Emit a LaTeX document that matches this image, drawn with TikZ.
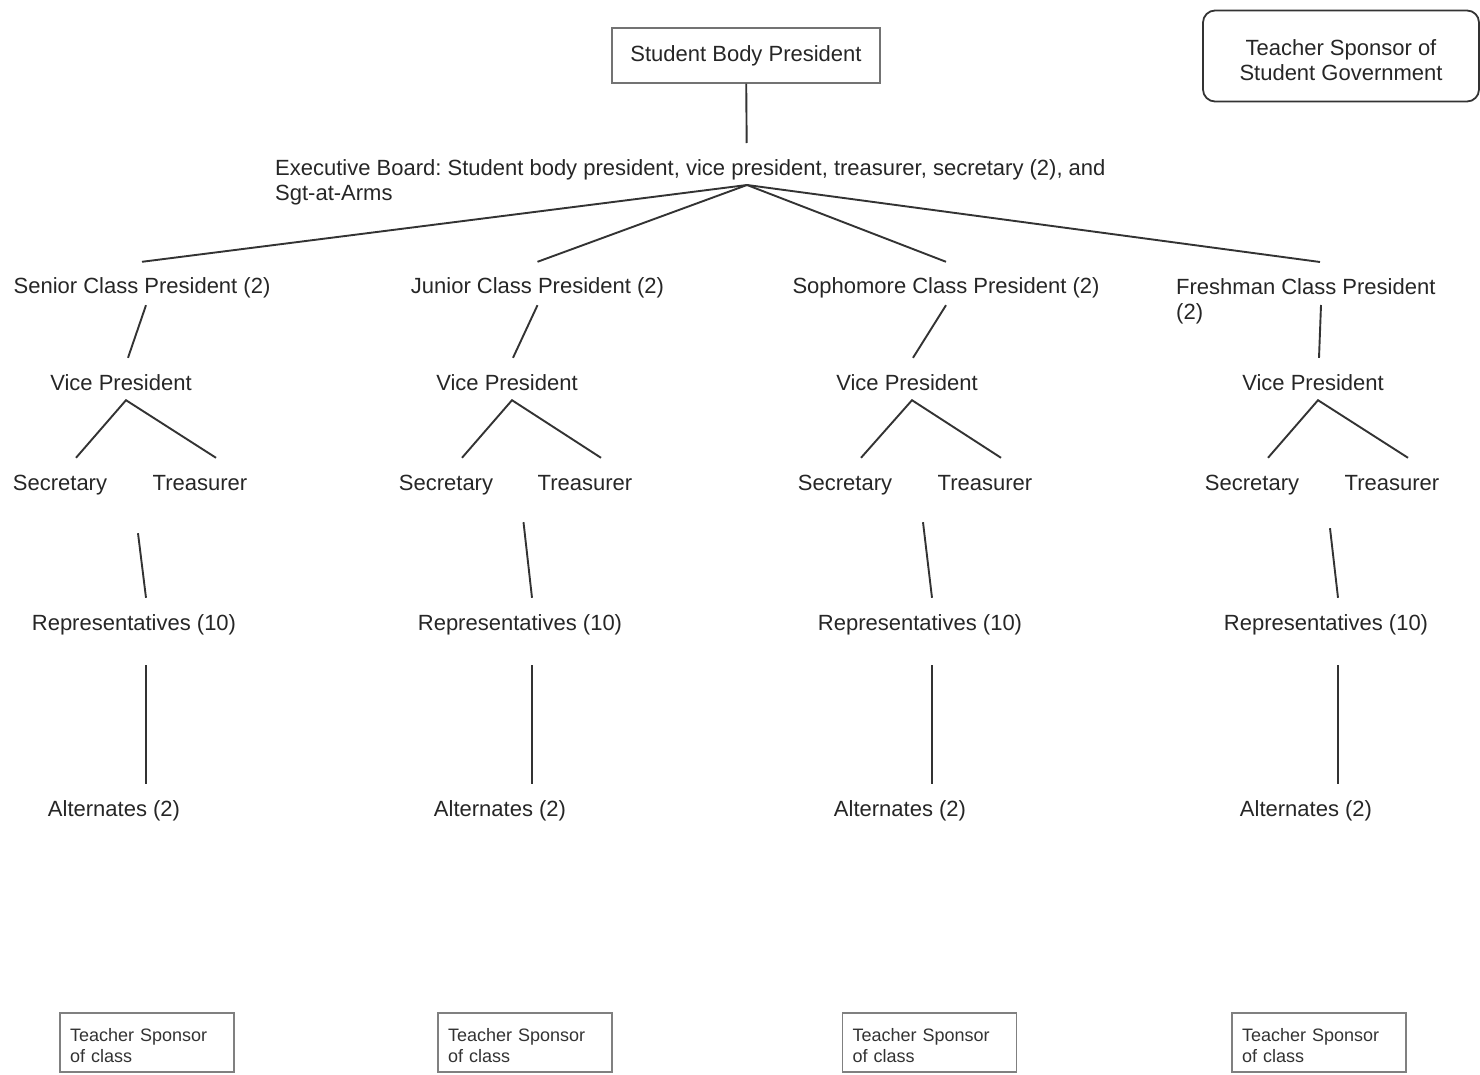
\documentclass[tikz,border=0pt]{standalone}
\usepackage{fontspec}
\setmainfont{Liberation Sans}
\usetikzlibrary{calc,positioning}
\frenchspacing

\begin{document}
\begin{tikzpicture}[x=1pt,y=-1pt,
  lbl/.style={inner sep=0pt, text height=16pt, text depth=5pt, text=black!85, font=\fontsize{22pt}{25pt}\selectfont},
  mlbl/.style={inner sep=0pt, align=left, text=black!85, font=\fontsize{22pt}{25.5pt}\selectfont},
  sqbox/.style={draw=black!55, line width=1.3pt, inner sep=0pt, align=center, text=black!85, font=\fontsize{22pt}{25pt}\selectfont},
  cbox/.style={draw=black!50, line width=1.2pt, text width=154pt, align=left, inner xsep=10pt, inner ysep=0pt, minimum height=59pt, text=black!80, font=\fontsize{18pt}{21pt}\selectfont},
  conn/.style={draw=black!80, line width=1.9pt}]
\useasboundingbox (0,0) rectangle (1480,1075);
% top
\node[sqbox, minimum width=268pt, minimum height=55pt] (sbp) at (746,55.5) {Student Body President};
\node[sqbox, draw=black!80, line width=1.8pt, rounded corners=12pt, minimum width=276pt, minimum height=91pt] (tsg) at (1341,56) {\rule{0pt}{24pt}Teacher Sponsor of\\Student Government};
\node[mlbl, anchor=north west] (eb) at (275,159) {Executive Board: Student body president, vice president, treasurer, secretary (2), and\\Sgt-at-Arms};
\coordinate (ebapex) at (747,185);
\draw[conn, shorten >=42pt] (sbp) -- (ebapex);
% class presidents
\node[lbl] (sen) at (142,288.5) {Senior Class President (2)};
\node[lbl] (jun) at (537.5,288.5) {Junior Class President (2)};
\node[lbl] (sop) at (946,288.5) {Sophomore Class President (2)};
\node[mlbl, anchor=north west] (fre) at (1176,278) {Freshman Class President\\(2)};
\draw[conn] (ebapex) -- ([yshift=16pt]sen.north);
\draw[conn] (ebapex) -- ([yshift=16pt]jun.north);
\draw[conn] (ebapex) -- ([yshift=16pt]sop.north);
\draw[conn] (ebapex) -- ([shift={(144pt,16pt)}]fre.north west);
% each class
\foreach \cls/\vx/\sx/\tx/\rx/\ax/\bx/\sy in {sen/121/60/200/134/114/147/38, jun/507/446/585/520/500/525/27, sop/907/845/985/920/900/929.5/27, fre/1313/1252/1392/1326/1306/1319/33}{
  \node[lbl] (\cls vp) at (\vx,384.5) {Vice President};
  \node[lbl] (\cls sec) at (\sx,484.5) {Secretary};
  \node[lbl] (\cls tre) at (\tx,484.5) {Treasurer};
  \node[lbl] (\cls rep) at (\rx,624.5) {Representatives (10)};
  \node[lbl] (\cls alt) at (\ax,810.5) {Alternates (2)};
  \node[cbox] (\cls ts) at (\bx,1042.5) {\rule{0pt}{19pt}Teacher Sponsor\\of class};
  \coordinate (\cls st) at ($(\cls sec.south)!.5!(\cls tre.south)$);
  \draw[conn] ([shift={(16pt,16pt)}]\cls sec.north) -- ([shift={(5pt,-5pt)}]\cls vp.south) -- ([shift={(16pt,16pt)}]\cls tre.north);
  \draw[conn] ([shift={(8pt,-\sy pt)}]\cls st) -- ([shift={(12pt,16pt)}]\cls rep.north);
  \draw[conn] ([shift={(12pt,-30pt)}]\cls rep.south) -- ([shift={(32pt,16pt)}]\cls alt.north);
}
\draw[conn] ([shift={(4pt,-6pt)}]sen.south) -- ([shift={(7pt,16pt)}]senvp.north);
\draw[conn] ([yshift=-6pt]jun.south) -- ([shift={(6pt,16pt)}]junvp.north);
\draw[conn] ([yshift=-6pt]sop.south) -- ([shift={(6pt,16pt)}]sopvp.north);
\draw[conn] ([shift={(145pt,-27pt)}]fre.north west) -- ([shift={(6pt,16pt)}]frevp.north);
\end{tikzpicture}
\end{document}
